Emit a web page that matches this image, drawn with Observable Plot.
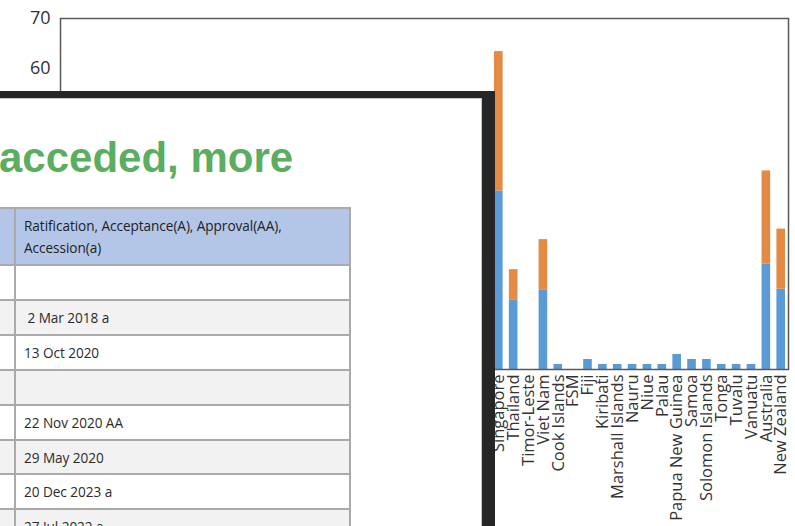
<!DOCTYPE html>
<html>
<head>
<meta charset="utf-8">
<script src="https://cdn.jsdelivr.net/npm/d3@7"></script>
<script src="https://cdn.jsdelivr.net/npm/@observablehq/plot@0.6"></script>
<style>
  html, body { margin: 0; padding: 0; background: #fff; overflow: hidden; }
  #wrap { position: relative; width: 795px; height: 526px; overflow: hidden; background: #fff; }
  #chart { position: absolute; left: 0; top: 0; }
  #shot { position: absolute; left: 0; top: 91px; width: 482px; height: 428px; background: #fff;
          border-top: 7px solid #262626; border-right: 13px solid #262626; overflow: hidden; }
  #shotInner { position: absolute; left: 0; top: 0; right: 0; bottom: 0;
               border-top: 1px solid #c9c9c9; border-right: 1px solid #c9c9c9; }
  .heading { position: absolute; left: -1px; top: 38px; font-family: "Liberation Sans", Arial, sans-serif;
             font-weight: bold; font-size: 42px; line-height: 42px; color: #5BAE60; white-space: nowrap; }
  .row { position: absolute; left: -100px; width: 451px; box-sizing: border-box;
         border: 2px solid #aaaaaa; border-top: none; }
  .cell { position: absolute; top: 0; bottom: 0; display: flex; align-items: center; box-sizing: border-box;
          font-family: "Open Sans", sans-serif; font-size: 13.6px; letter-spacing: -0.05px; color: #2b2b2b; white-space: pre; }
  .c1 { left: 0; width: 114px; border-right: 2px solid #aaaaaa; }
  .c2 { left: 116px; right: 0; padding-left: 6px; }
  .hdr { line-height: 22px; white-space: pre-line; color: #222; }
</style>
</head>
<body>
<div id="wrap">
  <div id="chart"></div>
  <div id="shot"><div id="shotInner"></div></div>
</div>
<script>
// ---- chart data ----
const hiddenCountries = ["Afghanistan", "Bangladesh", "Bhutan", "India", "Iran", "Maldives", "Nepal", "Pakistan", "Sri Lanka",
  "Russian Federation", "Kazakhstan", "Kyrgyzstan", "Tajikistan", "Turkmenistan", "Uzbekistan",
  "China", "DPR Korea", "Japan", "Mongolia", "Republic of Korea", "Hong Kong, China", "Macao, China",
  "Brunei Darussalam", "Cambodia", "Indonesia", "Lao PDR", "Malaysia", "Myanmar", "Philippines"];
const visibleCountries = ["Singapore", "Thailand", "Timor-Leste", "Viet Nam", "Cook Islands", "FSM", "Fiji", "Kiribati",
  "Marshall Islands", "Nauru", "Niue", "Palau", "Papua New Guinea", "Samoa", "Solomon Islands", "Tonga", "Tuvalu",
  "Vanuatu", "Australia", "New Zealand"];
const countries = hiddenCountries.concat(visibleCountries);

// hidden behind the overlay (estimates)
const hiddenBlue   = [4, 10, 2, 30, 12, 1, 4, 12, 6, 30, 8, 3, 2, 2, 6, 40, 1, 35, 4, 32, 14, 4, 3, 6, 18, 2, 16, 6, 15];
const hiddenOrange = [0, 4, 0, 14, 4, 0, 0, 4, 2, 12, 2, 0, 0, 0, 2, 14, 0, 15, 0, 14, 6, 0, 0, 2, 8, 0, 6, 2, 6];
// visible
const visibleBlue   = [35.6, 13.9, 0, 15.9, 1, 0, 2, 1, 1, 1, 1, 1, 3, 2, 2, 1, 1, 1, 21, 16];
const visibleOrange = [27.8, 6, 0, 10, 0, 0, 0, 0, 0, 0, 0, 0, 0, 0, 0, 0, 0, 0, 18.6, 12];

const blueValues = hiddenBlue.concat(visibleBlue);
const orangeValues = hiddenOrange.concat(visibleOrange);
const seriesNames = ["Series 1", "Series 2"];
const seriesColors = ["#5B9BD5", "#E38A45"];
const yTicks = [60, 70]; // lower tick labels are hidden behind the overlay

// ---- overlay (screenshot) text ----
const headingText = "acceded, more";
const tableHeader = "Ratification, Acceptance(A), Approval(AA),\nAccession(a)";
const tableDates = ["", " 2 Mar 2018 a", "13 Oct 2020", "", "22 Nov 2020 AA", "29 May 2020", "20 Dec 2023 a", "27 Jul 2022 a"];

const data = [];
countries.forEach((c, i) => {
  data.push({country: c, series: seriesNames[0], value: blueValues[i]});
  data.push({country: c, series: seriesNames[1], value: orangeValues[i]});
});

const chart = Plot.plot({
  width: 795,
  height: 526,
  marginLeft: 60,
  marginRight: 7,
  marginTop: 18,
  marginBottom: 157,
  style: {fontFamily: "'Open Sans', sans-serif", color: "#333", background: "white", overflow: "visible"},
  x: {domain: countries, paddingInner: 0.42, paddingOuter: 0.2, axis: null},
  y: {domain: [0, 70], axis: null},
  color: {domain: seriesNames, range: seriesColors},
  marks: [
    Plot.barY(data, {x: "country", y: "value", fill: "series"}),
    Plot.frame({stroke: "#595959", strokeWidth: 1.5}),
    Plot.axisX({ticks: visibleCountries, tickRotate: -90, tickSize: 0, tickPadding: 5, fontSize: 16.5, label: null, fill: "#333"}),
    Plot.axisY({ticks: yTicks, tickSize: 0, tickPadding: 10, fontSize: 18, label: null, fill: "#333"})
  ]
});
document.getElementById("chart").appendChild(chart);

// ---- build overlay ----
const inner = document.getElementById("shotInner");
const h = document.createElement("div");
h.className = "heading";
h.textContent = headingText;
inner.appendChild(h);

const originY = 98; // page y of overlay content top
function addRow(top, bottom, bg, text, isHeader) {
  const r = document.createElement("div");
  r.className = "row";
  r.style.top = (top - originY) + "px";
  r.style.height = (bottom - top) + "px";
  r.style.background = bg;
  if (isHeader) r.style.borderTop = "2px solid #aaaaaa";
  const c1 = document.createElement("div");
  c1.className = "cell c1";
  const c2 = document.createElement("div");
  c2.className = "cell c2" + (isHeader ? " hdr" : "");
  c2.textContent = text;
  r.appendChild(c1);
  r.appendChild(c2);
  inner.appendChild(r);
}
addRow(206, 265, "#B4C6E7", tableHeader, true);
const rowEdges = [265, 300, 335, 370, 405, 440, 474, 509, 544];
tableDates.forEach((t, i) => {
  addRow(rowEdges[i], rowEdges[i + 1], i % 2 === 0 ? "#ffffff" : "#f2f2f2", t, false);
});
</script>
</body>
</html>
